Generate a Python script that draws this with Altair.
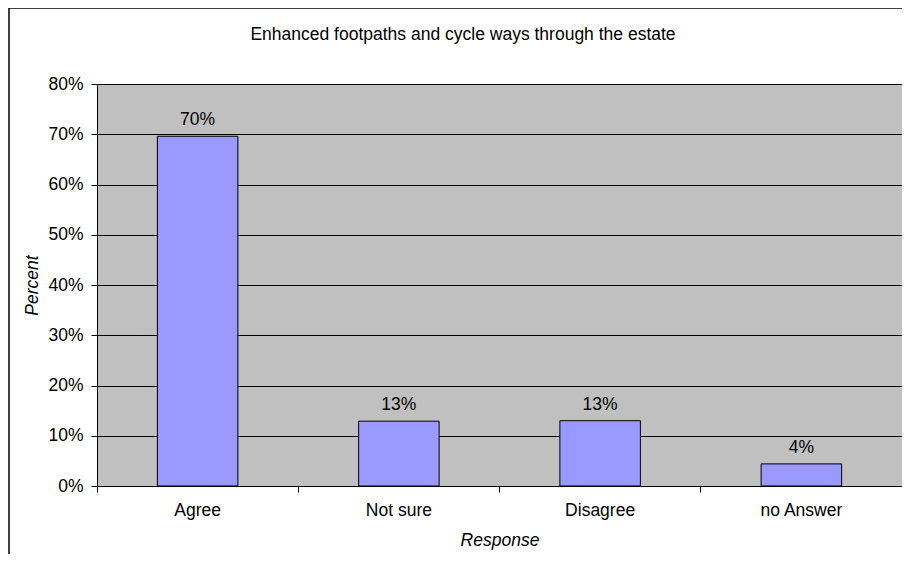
import altair as alt
import pandas as pd

categories = ["Agree", "Not sure", "Disagree", "no Answer"]
values = [0.696, 0.129, 0.130, 0.044]
labels = ["70%", "13%", "13%", "4%"]
y_ticks = [0.0, 0.1, 0.2, 0.3, 0.4, 0.5, 0.6, 0.7, 0.8]
title_text = "Enhanced footpaths and cycle ways through the estate"

df = pd.DataFrame({"Response": categories, "Percent": values, "label": labels})

W, H = 805, 402
FONT = "Liberation Sans"
FS = 17.5

x_enc = alt.X(
    "Response:N",
    sort=categories,
    scale=alt.Scale(paddingInner=0, paddingOuter=0),
    axis=alt.Axis(
        title="Response",
        titleFontStyle="italic",
        titleFontWeight="normal",
        titleFontSize=FS,
        titleFont=FONT,
        titleColor="black",
        titleY=59,
        titleBaseline="alphabetic",
        labelFont=FONT,
        labelFontSize=FS,
        labelColor="black",
        labelAngle=0,
        bandPosition=0,
        tickSize=6,
        labelPadding=9,
        domainColor="black",
        tickColor="black",
    ),
)

y_enc = alt.Y(
    "Percent:Q",
    scale=alt.Scale(domain=[0, 0.8]),
    axis=alt.Axis(
        title="Percent",
        values=y_ticks,
        format=".0%",
        titleFontStyle="italic",
        titleFontWeight="normal",
        titleFontSize=FS,
        titleFont=FONT,
        titleColor="black",
        titleX=-65,
        titleY=H / 2,
        titleAngle=-90,
        titleBaseline="middle",
        labelFont=FONT,
        labelFontSize=FS,
        labelColor="black",
        tickSize=6,
        labelPadding=8,
        domainColor="black",
        tickColor="black",
        grid=True,
        gridColor="black",
        gridWidth=1,
    ),
)

base = alt.Chart(df)
one = alt.Data(values=[{"k": 1}])

bars = base.mark_bar(
    color="#9999FF", stroke="black", strokeWidth=1, width=alt.RelativeBandSize(0.4)
).encode(x=x_enc, y=y_enc)

text = base.mark_text(
    baseline="alphabetic", dy=-11, fontSize=FS, font=FONT, color="black"
).encode(x=alt.X("Response:N", sort=categories), y="Percent:Q", text="label:N")

title = alt.Chart(one).mark_text(
    baseline="alphabetic", align="center", fontSize=FS, font=FONT, color="black"
).encode(x=alt.value(366), y=alt.value(-44), text=alt.value(title_text))

frame_left = alt.Chart(one).mark_rule(color="black", strokeWidth=1.5).encode(
    x=alt.value(-88), y=alt.value(-76), y2=alt.value(470)
)
frame_top = alt.Chart(one).mark_rule(color="black", strokeWidth=1.5).encode(
    x=alt.value(-88), x2=alt.value(W), y=alt.value(-76)
)

chart = (
    alt.layer(bars, text, title, frame_left, frame_top)
    .properties(
        width=W,
        height=H,
        background="white",
        autosize=alt.AutoSizeParams(type="none"),
        padding={"left": 89, "top": 76, "right": 0, "bottom": 68},
    )
    .configure_view(fill="#C0C0C0", stroke="#808080", strokeWidth=1)
)

chart.save("out.html", embed_options={"renderer": "svg", "actions": False})
